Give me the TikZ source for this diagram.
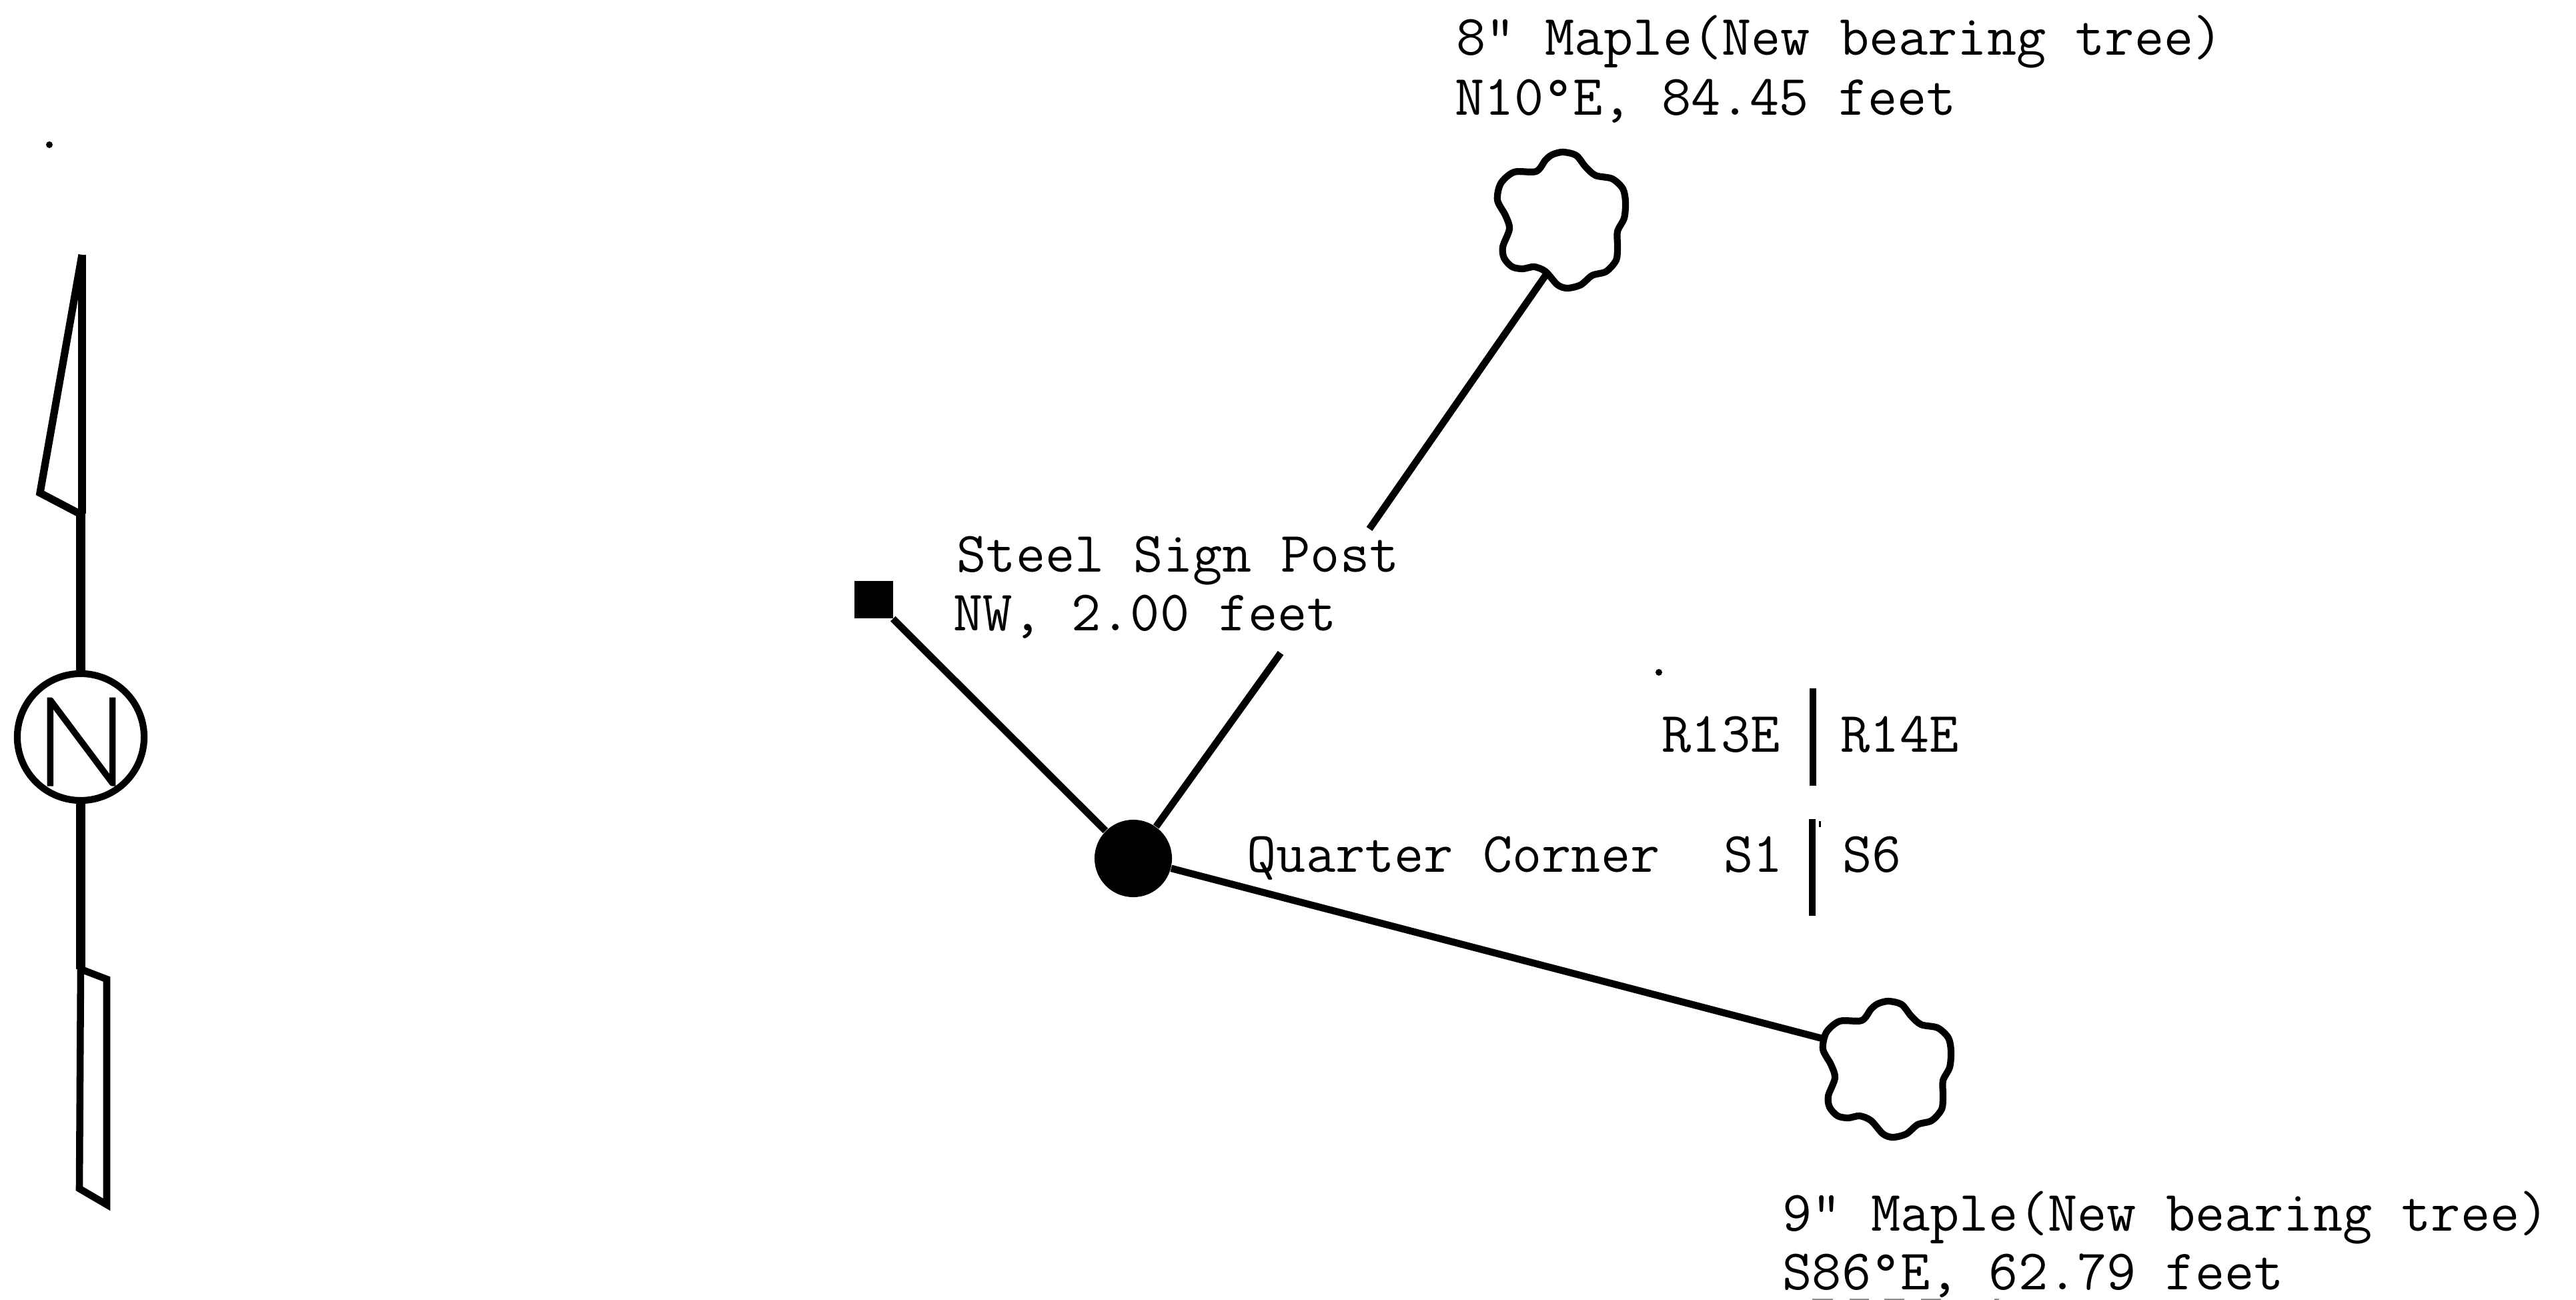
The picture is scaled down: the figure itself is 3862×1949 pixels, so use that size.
\documentclass[tikz,border=0pt]{standalone}
\usepackage{fontspec}
\newfontfamily\northfont[FakeBold=0.6]{Lato Light}
\begin{document}
\begin{tikzpicture}[x=0.01cm,y=-0.01cm,
  label text/.style={anchor=base west,inner sep=0pt,font=\ttfamily\addfontfeature{FakeBold=1.2}\fontsize{24.4}{24.4}\selectfont},
  leader/.style={draw=black,line width=3pt},
  divider/.style={draw=black,line width=2.8pt},
  tree crown/.style={draw=black,line width=2.9pt,line join=round},
  arrow part/.style={draw=black,line width=3pt,line join=miter},
  residue/.style={fill=black!45}]
\useasboundingbox (0,0) rectangle (3862,1949);
% north arrow
\node[circle,draw=black,line width=2.9pt,minimum size=1.9cm,inner sep=0pt] (compass) at (121,1105) {};
\node[anchor=base,inner sep=0pt,font=\northfont\fontsize{53}{53}\selectfont] (northN) at (122,1178) {N};
\coordinate (tip) at (123,382);
\coordinate (barb) at (60,739);
\coordinate (barbfoot) at (119,770);
\coordinate (tailtop) at (121,1453);
\coordinate (tailright) at (160,1468);
\coordinate (tailend) at (160,1806);
\coordinate (tailfoot) at (119,1782);
\draw[arrow part,line width=3.2pt] (tip) -- (barb) -- (barbfoot);
\draw[arrow part,line width=3.2pt] (tip) -- (123,770);
\draw[arrow part,line width=3.8pt] (121,770) -- (compass.north);
\draw[arrow part,line width=3.8pt] (compass.south) -- (tailtop);
\draw[arrow part] (tailtop) -- (tailfoot) -- (tailend) -- (tailright) -- cycle;
% survey marks
\node[circle,fill=black,minimum size=1.16cm,inner sep=0pt] (corner) at (1699,1287) {};
\node[rectangle,fill=black,minimum width=0.58cm,minimum height=0.56cm,inner sep=0pt] (post) at (1310,899) {};
\coordinate (treeA) at (2342,329);
\coordinate (treeB) at (2830,1602);
\draw[tree crown,shift={(treeA)}] plot[smooth cycle,tension=0.5] coordinates {(1,-101)(21,-96)(35,-79)(50,-66)(75,-61)(91,-46)(95,-26)(93,-2)(83,18)(83,41)(81,61)(66,78)(45,84)(28,98)(8,103)(-7,98)(-25,78)(-42,71)(-59,74)(-75,71)(-87,58)(-89,41)(-79,14)(-85,-6)(-97,-29)(-92,-54)(-72,-71)(-39,-72)(-25,-89)(-15,-97)};
\draw[tree crown,shift={(treeB)}] plot[smooth cycle,tension=0.5] coordinates {(1,-101)(21,-96)(35,-79)(50,-66)(75,-61)(91,-46)(95,-26)(93,-2)(83,18)(83,41)(81,61)(66,78)(45,84)(28,98)(8,103)(-7,98)(-25,78)(-42,71)(-59,74)(-75,71)(-87,58)(-89,41)(-79,14)(-85,-6)(-97,-29)(-92,-54)(-72,-71)(-39,-72)(-25,-89)(-15,-97)};
\coordinate (treeAfoot) at (2317,413);
\coordinate (treeBside) at (2736,1558);
\coordinate (gapLow) at (1920,979);
\coordinate (gapHigh) at (2053,793);
\draw[leader] (corner) -- (post);
\draw[leader] (corner) -- (gapLow);
\draw[leader] (gapHigh) -- (treeAfoot);
\draw[leader] (corner) -- (treeBside);
% township dividers
\coordinate (divAtop) at (2718,1032);
\coordinate (divAbot) at (2718,1178);
\coordinate (divBtop) at (2717,1228);
\coordinate (divBbot) at (2717,1373);
\draw[divider] (divAtop) -- (divAbot);
\draw[divider] (divBtop) -- (divBbot);
% labels
\node[label text] (t1a) at (2183,83) {8" Maple(New bearing tree)};
\node[label text] (t1b) at (2181,173) {N10°E, 84.45 feet};
\node[label text] (t2a) at (1434,858) {Steel Sign Post};
\node[label text] (t2b) at (1429,946) {NW, 2.00 feet};
\node[label text] (t3a) at (2491,1127) {R13E};
\node[label text] (t3b) at (2759,1127) {R14E};
\node[label text] (t4a) at (1869,1307) {Quarter Corner};
\node[label text] (t4b) at (2584,1307) {S1};
\node[label text] (t4c) at (2762,1307) {S6};
\node[label text] (t5a) at (2672,1845) {9" Maple(New bearing tree)};
\node[label text] (t5b) at (2672,1933) {S86°E, 62.79 feet};
% specks and scan residue
\fill (74,217) circle (5);
\fill (2487,1008) circle (5);
\fill (2727,1231) rectangle (2730,1240);
\fill[residue] (2717,1947) rectangle (2748,1949);
\fill[residue] (2773,1947) rectangle (2802,1949);
\fill[residue] (2825,1947) rectangle (2855,1949);
\fill[residue] (2880,1947) rectangle (2910,1949);
\fill[residue] (2990,1947) rectangle (2997,1949);
\end{tikzpicture}
\end{document}
